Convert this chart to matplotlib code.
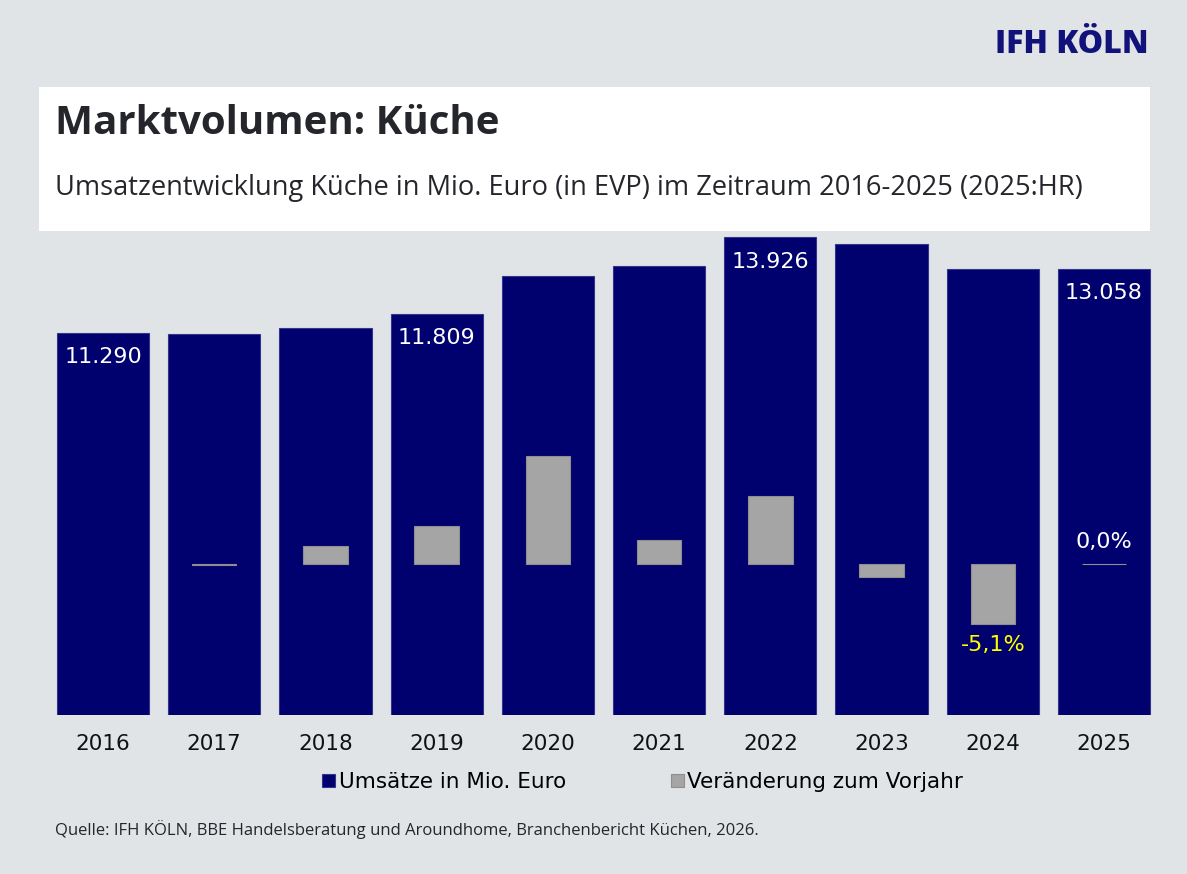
import numpy as np
import matplotlib.pyplot as plt
from matplotlib.patches import Rectangle

# data
years = ['2016', '2017', '2018', '2019', '2020', '2021', '2022', '2023', '2024', '2025']
umsatz = [11.290, 11.25, 11.42, 11.809, 12.87, 13.14, 13.926, 13.75, 13.05, 13.058]
veraenderung = [-0.1, 1.5, 3.2, 9.2, 2.0, 5.8, -1.1, -5.1, 0.0]
veraenderung = [np.nan] + veraenderung  # no value for 2016
umsatz_labels = {0: '11.290', 3: '11.809', 6: '13.926', 9: '13.058'}
pct_labels = {8: ('-5,1%', '#ffff00', -1), 9: ('0,0%', 'white', 1)}

BG = '#e1e4e7'
NAVY = '#00006e'
GRAY = '#a5a5a5'

W, H = 1187, 874
fig = plt.figure(figsize=(W / 100, H / 100), dpi=100, facecolor=BG)

# white title box
fig.patches.append(Rectangle((39 / W, 1 - 231 / H), 1111 / W, 144 / H,
                             transform=fig.transFigure, facecolor='white',
                             edgecolor='none', zorder=0))
fig.text(55 / W, 1 - 123 / H, 'Marktvolumen: Küche', fontsize=29, fontweight='bold',
         family='Open Sans', color='#24262b', va='center', ha='left')
fig.text(55 / W, 1 - 188 / H,
         'Umsatzentwicklung Küche in Mio. Euro (in EVP) im Zeitraum 2016-2025 (2025:HR)',
         fontsize=19.6, family='Open Sans', color='#24262b', va='center', ha='left')
fig.text(1149 / W, 1 - 45 / H, 'IFH KÖLN', fontsize=23, fontweight='heavy',
         family='Open Sans', color='#12137a', va='center', ha='right')
fig.text(55 / W, 1 - 830 / H,
         'Quelle: IFH KÖLN, BBE Handelsberatung und Aroundhome, Branchenbericht Küchen, 2026.',
         fontsize=12, family='Open Sans', color='#24262b', va='center', ha='left')

ax = fig.add_axes([47.4 / W, 1 - 715 / H, 1112.2 / W, 483 / H])
ax.set_facecolor('none')
x = np.arange(len(years))
b1 = ax.bar(x, umsatz, width=0.83, color=NAVY, edgecolor='#34348f', linewidth=0.8,
            label='Umsätze in Mio. Euro')
ax.set_xlim(-0.5, len(years) - 0.5)
ax.set_ylim(0.746, 0.746 + 483 / 36.23)
ax.set_xticks(x)
ax.set_xticklabels(years, fontsize=15.5, color='#111111')
ax.tick_params(axis='x', length=0, pad=14)
ax.set_yticks([])
for s in ax.spines.values():
    s.set_visible(False)

for i, txt in umsatz_labels.items():
    ax.annotate(txt, xy=(x[i], umsatz[i]), xytext=(0, -17.5), textcoords='offset points',
                ha='center', va='center', color='white', fontsize=16)

ax2 = ax.twinx()
ax2.set_facecolor('none')
b2 = ax2.bar(x, veraenderung, width=0.4, color=GRAY, edgecolor='#8e8e8e', linewidth=0.8,
             label='Veränderung zum Vorjahr')
ax2.set_ylim(-151 / 11.75, 332 / 11.75)
ax2.set_yticks([])
for s in ax2.spines.values():
    s.set_visible(False)

for i, (txt, col, sgn) in pct_labels.items():
    ax2.annotate(txt, xy=(x[i], veraenderung[i]), xytext=(0, 15.5 * sgn),
                 textcoords='offset points', ha='center', va='center',
                 color=col, fontsize=16)

fig.legend(handles=[b1, b2], loc='center left', bbox_to_anchor=(303 / W, 1 - 782 / H),
           ncol=2, frameon=False, fontsize=15.5, handlelength=0.6, handleheight=0.6,
           handletextpad=0.15, columnspacing=4.9)

fig.savefig('out.png', dpi=100, facecolor=BG)
